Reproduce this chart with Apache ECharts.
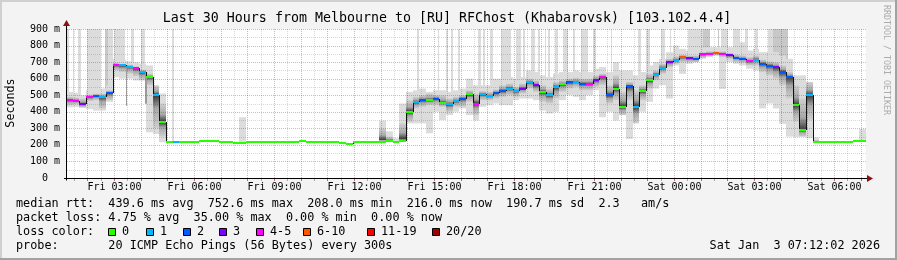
<!DOCTYPE html>
<html><head><meta charset="utf-8">
<script src="https://cdn.jsdelivr.net/npm/echarts@6/dist/echarts.min.js"></script>
<style>html,body{margin:0;padding:0;background:#f3f3f3}#c{width:897px;height:260px}</style>
</head><body><div id="c"></div>
<script>
// ---- time base (minutes since Fri 00:00) ----
const startMinute = 72;    // Fri 01:12
const endMinute = 1872;    // Sat 07:12
const stepMinutes = 15;

// ---- median rtt (ms) per 15-min step ----
const median = [
 470,468,445,488,495,490,515,682,680,672,
 662,640,610,500,340,216,216,216,216,216,
 222,222,222,216,216,210,214,220,216,216,
 216,216,216,216,220,222,216,216,216,216,
 220,210,208,220,216,216,216,220,222,215,
 225,400,458,470,470,480,452,445,465,480,
 505,450,505,495,515,525,540,525,540,580,
 560,520,500,550,568,578,580,568,568,590,
 610,500,540,430,555,430,525,590,625,665,
 700,710,730,722,720,746,752,754,750,740,
 726,720,705,715,690,678,669,640,610,440,
 290,500,216,216,216,220,216,216,222,222];

// ---- loss class index per step (0:'0',1:'1',2:'2',3:'3',4:'4-5',5:'6-10',6:'11-19',7:'20/20') ----
const lossIdx = [
 4,4,3,4,2,1,2,4,1,1,
 4,1,0,1,0,0,1,0,0,0,
 0,0,0,0,0,0,0,0,0,0,
 0,0,0,0,0,0,0,0,0,0,
 0,0,0,0,0,0,0,0,0,0,
 0,0,1,2,0,2,0,1,1,2,
 0,4,1,1,2,2,1,1,3,1,
 3,0,1,1,0,2,1,2,4,3,
 4,2,0,0,2,1,0,0,1,1,
 3,1,5,3,2,4,4,5,4,3,
 2,2,4,1,2,2,3,2,2,0,
 0,1,0,0,0,0,0,0,0,0];

// ---- light smoke extent (ms) ----
const lightLo = [
 427,430,427,417,407,407,460,609,600,600,
 589,590,276,266,216,216,216,216,216,216,
 222,222,222,216,216,210,214,220,216,216,
 216,216,216,216,220,222,216,216,216,216,
 220,210,208,220,216,216,216,220,222,215,
 225,330,330,330,270,400,350,380,400,420,
 380,347,430,440,450,440,440,470,480,480,
 470,407,390,400,470,500,490,470,500,530,
 367,400,347,380,236,340,400,460,540,560,
 480,680,629,690,700,720,730,740,538,700,
 690,680,660,650,420,450,420,327,250,246,
 250,240,216,216,216,220,216,216,222,222];
const lightHi = [
 520,515,500,530,540,540,560,720,715,705,
 700,690,680,540,510,216,216,216,216,216,
 222,222,222,216,216,210,367,220,216,216,
 216,216,216,216,220,222,216,216,216,216,
 220,210,208,220,216,216,216,347,282,240,
 450,520,530,540,520,530,530,520,530,540,
 600,560,560,560,600,600,610,600,610,650,
 640,620,610,630,640,640,650,640,640,660,
 670,640,700,650,650,620,640,680,700,720,
 760,800,780,770,770,790,790,790,790,790,
 780,820,770,780,760,760,760,740,720,620,
 620,560,246,216,216,220,216,216,222,296];

// ---- dense (dark) smoke extent (ms) ----
const darkLo = [
 440,445,425,465,470,420,470,650,640,630,
 615,590,560,300,250,216,216,216,216,216,
 222,222,222,216,216,210,214,220,216,216,
 216,216,216,216,220,222,216,216,216,216,
 220,210,208,220,216,216,216,222,222,215,
 225,340,420,430,440,440,430,400,430,430,
 460,380,470,470,480,490,500,490,510,540,
 520,460,450,480,520,540,550,530,530,550,
 560,450,470,380,470,330,470,540,590,630,
 670,690,700,700,700,725,735,740,730,720,
 700,695,680,680,640,620,600,560,480,340,
 250,350,216,216,216,220,216,216,222,222];
const darkHi = [
 490,485,480,505,510,510,530,695,690,685,
 675,655,630,560,450,216,216,216,216,216,
 222,222,222,216,216,210,214,220,216,216,
 216,216,216,216,220,222,216,216,216,216,
 220,210,208,220,216,216,216,300,250,215,
 330,470,490,500,510,500,500,480,490,500,
 530,510,525,520,535,560,570,550,570,600,
 590,560,540,580,590,600,605,600,600,620,
 630,560,620,520,580,530,560,630,650,690,
 720,735,745,740,740,760,765,765,765,755,
 745,740,730,740,715,705,700,680,640,560,
 480,580,230,216,216,220,216,216,222,222];

// ---- tall single-ping spikes: [from minute, to minute, top ms] ----
const spikes = [
 [75,78,900],[87,91,900],[99,106,900],[120,151,900],[162,177,900],[181,204,900],[219,226,900],[241,249,900],[310,316,900],
 [861,866,900],[908,912,900],[927,931,900],[938,942,900],[953,958,900],
 [999,1005,900],[1010,1015,900],[1025,1033,900],[1051,1074,900],[1085,1096,900],[1100,1104,900],[1119,1127,900],
 [1134,1138,900],[1149,1151,900],[1156,1160,900],[1172,1179,900],[1190,1202,900],[1213,1217,900],[1231,1247,900],
 [1258,1265,900],[1299,1301,900],[1359,1366,900],[1378,1385,900],[1411,1419,900],
 [1430,1434,900],[1472,1505,900],[1545,1562,900],[1573,1588,900],[1599,1607,900],[1622,1629,900],[1652,1696,900]];
const denseSpikes = [[160,166,900],[1505,1520,900],[1539,1541,900],[1662,1696,900]];
// ---- single low dips: [from minute, to minute, low ms] ----
const dips = [[206,209,437],[250,254,448]];

// ---- ticks ----
const xTickMinutes = [180,360,540,720,900,1080,1260,1440,1620,1800];
const xTickLabels = ['Fri 03:00','Fri 06:00','Fri 09:00','Fri 12:00','Fri 15:00','Fri 18:00','Fri 21:00','Sat 00:00','Sat 03:00','Sat 06:00'];
const yMax = 900, yStep = 100;

// ---- legend ----
const lossLabels = ['0','1','2','3','4-5','6-10','11-19','20/20'];
const lossColors = ['#26ff00','#00b8ff','#0059ff','#7e00ff','#ff00ff','#ff5500','#ff0000','#a00000'];
const titleText = 'Last 30 Hours from Melbourne to [RU] RFChost (Khabarovsk) [103.102.4.4]';
const statLines = [
 'median rtt:  439.6 ms avg  752.6 ms max  208.0 ms min  216.0 ms now  190.7 ms sd  2.3   am/s',
 'packet loss: 4.75 % avg  35.00 % max  0.00 % min  0.00 % now',
 'loss color:',
 'probe:       20 ICMP Echo Pings (56 Bytes) every 300s'];
const stampText = 'Sat Jan  3 07:12:02 2026';

// ================= drawing =================
const G = {left:66, top:29, width:800, height:149};
const MONO = '"DejaVu Sans Mono"';
const RED = 'rgba(255,0,0,0.36)', GREY = 'rgba(0,0,0,0.15)';
const chart = echarts.init(document.getElementById('c'), null, {renderer:'canvas', width:897, height:260});

const xGrid = []; for (let m = 90; m < endMinute; m += 30) xGrid.push([m, 0]);
const yGrid = []; for (let v = 50; v <= yMax; v += 50) yGrid.push([startMinute, v]);
const steps = median.map((m,i)=>[startMinute + i*stepMinutes, m, lossIdx[i], lightLo[i], lightHi[i], darkLo[i], darkHi[i], i>0?median[i-1]:m]);
const R = Math.round;

function idxOf(t){ return Math.max(0, Math.min(median.length-1, Math.floor((t-startMinute)/stepMinutes))); }

function spikeSeries(list, color, z){
  return {type:'custom', z:z, silent:true, data:list,
    renderItem:(p,api)=>{
      const a=api.value(0), b=api.value(1), top=api.value(2);
      const base = median[idxOf(a)];
      const p0=api.coord([a,top]), p1=api.coord([b,base]);
      const x0=R(p0[0]), x1=Math.max(x0+1,R(p1[0]));
      return {type:'rect', shape:{x:x0,y:p0[1],width:x1-x0,height:p1[1]-p0[1]}, style:{fill:color}};
    }};
}

const els = [];
// frame
els.push({type:'rect', shape:{x:0,y:0,width:897,height:2}, style:{fill:'#d0d0d0'}, z:200});
els.push({type:'rect', shape:{x:0,y:0,width:2,height:260}, style:{fill:'#d0d0d0'}, z:200});
els.push({type:'rect', shape:{x:0,y:258,width:897,height:2}, style:{fill:'#a2a2a2'}, z:200});
els.push({type:'rect', shape:{x:895,y:0,width:2,height:260}, style:{fill:'#a2a2a2'}, z:200});
// title & side texts
els.push({type:'text', x:447, y:18.5, z:100, style:{text:titleText, font:'13.3px '+MONO, fill:'#000', align:'center', verticalAlign:'middle'}});
els.push({type:'text', x:11, y:103, rotation:Math.PI/2, z:100, style:{text:'Seconds', font:'11.7px '+MONO, fill:'#000', align:'center', verticalAlign:'middle'}});
els.push({type:'text', x:886, y:60, rotation:-Math.PI/2, z:100, style:{text:'RRDTOOL / TOBI OETIKER', font:'8.3px '+MONO, fill:'#ababab', align:'center', verticalAlign:'middle'}});
// stats
statLines.forEach((s,k)=>els.push({type:'text', x:16, y:204+14*k, z:100, style:{text:s, font:'11.8px '+MONO, fill:'#000', align:'left', verticalAlign:'middle'}}));
els.push({type:'text', x:880, y:246, z:100, style:{text:stampText, font:'11.8px '+MONO, fill:'#000', align:'right', verticalAlign:'middle'}});
const boxX = [108,146,183,219,256,303,367,432];
lossLabels.forEach((l,k)=>{
  els.push({type:'rect', z:100, shape:{x:boxX[k]+0.5,y:228.5,width:7,height:7}, style:{fill:lossColors[k], stroke:'#000', lineWidth:1}});
  els.push({type:'text', x:boxX[k]+14, y:232, z:100, style:{text:l, font:'11.8px '+MONO, fill:'#000', align:'left', verticalAlign:'middle'}});
});
// axes
const ax0 = G.left+0.5, ay0 = G.top+G.height+0.5;
els.push({type:'line', z:150, shape:{x1:ax0,y1:ay0+2,x2:ax0,y2:G.top-4}, style:{stroke:'#000', lineWidth:1}});
els.push({type:'line', z:150, shape:{x1:G.left-2,y1:ay0,x2:G.left+G.width+1,y2:ay0}, style:{stroke:'#000', lineWidth:1}});
els.push({type:'polygon', z:151, shape:{points:[[G.left-3,G.top-3],[G.left+4,G.top-3],[G.left+0.5,G.top-9]]}, style:{fill:'#8b1010'}});
els.push({type:'polygon', z:151, shape:{points:[[G.left+G.width+1,ay0-3.5],[G.left+G.width+1,ay0+3.5],[G.left+G.width+7,ay0]]}, style:{fill:'#8b1010'}});

chart.setOption({
  animation:false,
  backgroundColor:'#f3f3f3',
  grid:{left:G.left, top:G.top, width:G.width, height:G.height, show:true, backgroundColor:'#ffffff', borderWidth:0, outerBoundsMode:'none'},
  xAxis:{type:'value', min:startMinute, max:endMinute, show:false},
  yAxis:{type:'value', min:0, max:yMax, interval:yStep,
    axisLine:{show:false}, axisTick:{show:false}, splitLine:{show:false},
    axisLabel:{margin:6, fontFamily:'DejaVu Sans Mono', fontSize:10, color:'#000',
      formatter:v=> v===0 ? '0\u00a0\u00a0' : v+' m'}},
  graphic:{elements:els},
  series:[
    spikeSeries(spikes, '#dcdcdc', 1),
    spikeSeries(denseSpikes, '#c8c8c8', 1.5),
    {type:'custom', z:2, silent:true, data:steps,
      renderItem:(p,api)=>{
        const t=api.value(0), m=api.value(1), lo=api.value(3), hi=api.value(4), dlo=api.value(5), dhi=api.value(6);
        const a=api.coord([t,hi]), b=api.coord([t+stepMinutes,lo]);
        const x0=R(a[0]), x1=R(b[0]);
        const ch=[];
        if (hi-lo>1) ch.push({type:'rect', shape:{x:x0,y:a[1],width:x1-x0,height:b[1]-a[1]}, style:{fill:'#dcdcdc'}});
        if (dhi-dlo>1){
          const c=api.coord([t,dhi]), d=api.coord([t,dlo]);
          let o=(dhi-m)/(dhi-dlo); o=Math.max(0.1,Math.min(0.9,o));
          ch.push({type:'rect', shape:{x:x0,y:c[1],width:x1-x0,height:d[1]-c[1]},
            style:{fill:new echarts.graphic.LinearGradient(0,0,0,1,[
              {offset:0,color:'#cfcfcf'},{offset:o*0.6,color:'#a8a8a8'},{offset:o,color:'#3a3a3a'},
              {offset:o+(1-o)*0.4,color:'#a8a8a8'},{offset:1,color:'#cfcfcf'}])}});
        }
        return {type:'group', children:ch};
      }},
    {type:'custom', z:2.6, silent:true, data:dips,
      renderItem:(p,api)=>{
        const a=api.value(0), b=api.value(1), low=api.value(2);
        const base=median[idxOf(a)];
        const p0=api.coord([a,base]), p1=api.coord([b,low]);
        const x0=R(p0[0]), x1=Math.max(x0+1,R(p1[0]));
        return {type:'rect', shape:{x:x0,y:p0[1],width:x1-x0,height:p1[1]-p0[1]}, style:{fill:'#9a9a9a'}};
      }},
    // horizontal grid
    {type:'custom', z:4, silent:true, data:yGrid,
      renderItem:(p,api)=>{
        const v=api.value(1); const a=api.coord([startMinute,v]), b=api.coord([endMinute,v]);
        const y=R(a[1])+0.5;
        return {type:'line', shape:{x1:a[0]+1,y1:y,x2:b[0],y2:y}, style:{stroke: v%100===0?RED:GREY, lineWidth:1, lineDash:[1,1]}};
      }},
    // vertical grid + axis ticks
    {type:'custom', z:4, silent:true, data:xGrid,
      renderItem:(p,api)=>{
        const m=api.value(0); const a=api.coord([m,yMax]), b=api.coord([m,0]);
        const x=R(a[0])+0.5; const major=m%60===0;
        return {type:'group', children:[
          {type:'line', shape:{x1:x,y1:a[1],x2:x,y2:b[1]}, style:{stroke: major?RED:GREY, lineWidth:1, lineDash:[1,1]}},
          {type:'line', z2:10, shape:{x1:x,y1:R(b[1])+1,x2:x,y2:R(b[1])+3}, style:{stroke: major?'#c06060':'#aaa', lineWidth:1}}
        ]};
      }},
    // median, colored by loss
    {type:'custom', z:5, silent:true, data:steps,
      renderItem:(p,api)=>{
        const t=api.value(0), m=api.value(1), k=api.value(2), pm=api.value(7);
        const a=api.coord([t,m]), b=api.coord([t+stepMinutes,m]), c=api.coord([t,pm]);
        const x0=R(a[0]), x1=R(b[0]), y=R(a[1]);
        return {type:'group', children:[
          {type:'line', shape:{x1:x0+0.5,y1:R(c[1]),x2:x0+0.5,y2:y}, style:{stroke:'#111', lineWidth:1}},
          {type:'line', shape:{x1:x0,y1:y,x2:x1,y2:y}, style:{stroke:lossColors[k], lineWidth:2}}
        ]};
      }},
    // x tick labels
    {type:'custom', z:6, silent:true, data:xTickMinutes.map((m,i)=>[m,0,i]),
      renderItem:(p,api)=>{
        const a=api.coord([api.value(0),0]);
        return {type:'text', x:R(a[0])+0.5, y:a[1]+9, style:{text:xTickLabels[api.value(2)], font:'10px '+MONO, fill:'#000', align:'center', verticalAlign:'middle'}};
      }}
  ]
});
</script></body></html>
